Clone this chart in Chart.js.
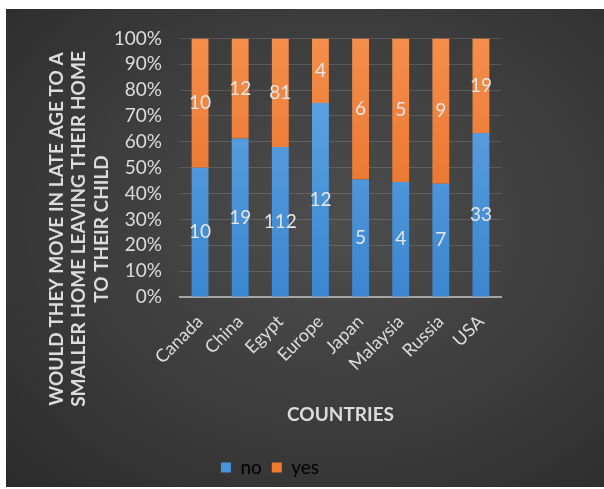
<!DOCTYPE html>
<html>
<head>
<meta charset="utf-8">
<script src="https://cdn.jsdelivr.net/npm/chart.js@4"></script>
<style>
  body { margin: 0; background: #fff; }
  #panel {
    position: absolute; left: 6px; top: 9px; width: 598px; height: 478px;
    background: radial-gradient(ellipse at 55% 45%, #4d4d4d 0%, #3c3c3c 55%, #2b2b2b 100%);
  }
</style>
</head>
<body>
<div id="panel"><canvas id="myChart" width="598" height="478"></canvas></div>
<script>
const countries = ["Canada", "China", "Egypt", "Europe", "Japan", "Malaysia", "Russia", "USA"];
const noCounts = [10, 19, 112, 12, 5, 4, 7, 33];
const yesCounts = [10, 12, 81, 4, 6, 5, 9, 19];
const yTitleLines = ["WOULD THEY MOVE IN LATE AGE TO A", "SMALLER HOME LEAVING THEIR HOME", "TO THEIR CHILD"];

// 100% stacked: share of each answer per country
const noPct = noCounts.map((n, i) => (n / (n + yesCounts[i])) * 100);
const yesPct = yesCounts.map((n, i) => (n / (noCounts[i] + n)) * 100);

const FONT = "Lato, 'Open Sans', sans-serif";
const TXT = "#dcdcdc";

function grad(ctx, top, bottom) {
  const area = ctx.chart.chartArea;
  if (!area) return bottom;
  const g = ctx.chart.ctx.createLinearGradient(0, area.top, 0, area.bottom);
  g.addColorStop(0, top);
  g.addColorStop(1, bottom);
  return g;
}

// counts written in the middle of each segment
const segmentLabels = {
  id: "segmentLabels",
  afterDatasetsDraw(chart) {
    const ctx = chart.ctx;
    const raw = [noCounts, yesCounts];
    ctx.save();
    ctx.font = "19px " + FONT;
    ctx.fillStyle = "#e6e6e6";
    ctx.textAlign = "center";
    ctx.textBaseline = "middle";
    chart.data.datasets.forEach((ds, d) => {
      chart.getDatasetMeta(d).data.forEach((el, i) => {
        ctx.fillText(raw[d][i], el.x, (el.y + el.base) / 2);
      });
    });
    ctx.restore();
  },
};

// rotated three-line axis title, placed like the original
const yTitle = {
  id: "yTitle",
  afterDraw(chart) {
    const ctx = chart.ctx;
    ctx.save();
    ctx.translate(73, 220);
    ctx.rotate(-Math.PI / 2);
    ctx.font = "bold 19px " + FONT;
    ctx.fillStyle = TXT;
    ctx.textAlign = "center";
    ctx.textBaseline = "middle";
    yTitleLines.forEach((line, i) => ctx.fillText(line, 0, (i - 1) * 22.5));
    ctx.restore();
  },
};

new Chart("myChart", {
  type: "bar",
  data: {
    labels: countries,
    datasets: [
      {
        label: "no",
        data: noPct,
        backgroundColor: (c) => grad(c, "#66a8e6", "#3a86d0"),
        barPercentage: 0.84,
        categoryPercentage: 0.5,
      },
      {
        label: "yes",
        data: yesPct,
        backgroundColor: (c) => grad(c, "#f58e4c", "#e3681f"),
        barPercentage: 0.84,
        categoryPercentage: 0.5,
      },
    ],
  },
  options: {
    responsive: false,
    animation: false,
    layout: { padding: { left: 33, right: 103, top: 26, bottom: 0 } },
    plugins: {
      legend: {
        position: "bottom",
        labels: {
          color: TXT,
          font: { family: FONT, size: 19 },
          boxWidth: 10,
          boxHeight: 10,
          padding: 10,
          generateLabels: (chart) =>
            chart.data.datasets.map((ds, i) => ({
              text: ds.label,
              fillStyle: i === 0 ? "#4a93db" : "#f07a30",
              strokeStyle: "transparent",
              lineWidth: 0,
              datasetIndex: i,
            })),
        },
      },
      tooltip: { enabled: false },
    },
    scales: {
      x: {
        stacked: true,
        afterFit: (s) => { s.height = 151; },
        grid: { display: false },
        border: { color: "#a6a6a6", width: 2 },
        ticks: {
          color: TXT,
          font: { family: FONT, size: 18 },
          padding: 6,
          maxRotation: 45,
          minRotation: 45,
        },
        title: {
          display: true,
          text: "COUNTRIES",
          color: TXT,
          font: { family: FONT, size: 19, weight: "bold" },
          padding: { top: 0, bottom: 22 },
        },
      },
      y: {
        stacked: true,
        min: 0,
        max: 100,
        afterFit: (s) => { s.width = 141; },
        border: { display: false },
        grid: { color: "rgba(255,255,255,0.14)", drawTicks: false },
        ticks: {
          stepSize: 10,
          padding: 18,
          color: TXT,
          font: { family: FONT, size: 19 },
          callback: (v) => v + "%",
        },
      },
    },
  },
  plugins: [segmentLabels, yTitle],
});
</script>
</body>
</html>
